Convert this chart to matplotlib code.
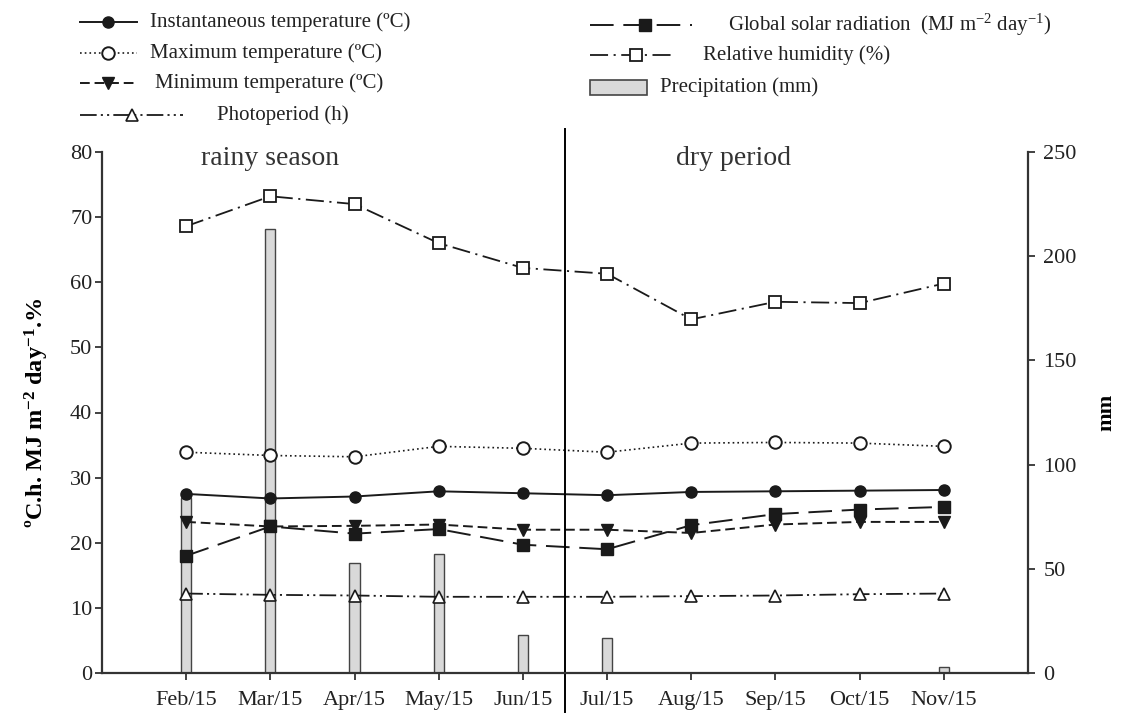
import matplotlib
matplotlib.use("Agg")
import matplotlib.pyplot as plt
from matplotlib.lines import Line2D
from matplotlib.patches import Rectangle
import numpy as np

plt.rcParams['font.family'] = ['Liberation Serif', 'DejaVu Serif']
plt.rcParams['mathtext.fontset'] = 'custom'
plt.rcParams['mathtext.rm'] = 'Liberation Serif'
plt.rcParams['mathtext.it'] = 'Liberation Serif:italic'
plt.rcParams['mathtext.bf'] = 'Liberation Serif:bold'
plt.rcParams['mathtext.default'] = 'regular'
plt.rcParams['lines.scale_dashes'] = False

months = ["Feb/15", "Mar/15", "Apr/15", "May/15", "Jun/15",
          "Jul/15", "Aug/15", "Sep/15", "Oct/15", "Nov/15"]
inst_temp = [27.5, 26.8, 27.1, 27.9, 27.6, 27.3, 27.8, 27.9, 28.0, 28.1]
max_temp = [33.9, 33.4, 33.2, 34.8, 34.5, 33.9, 35.3, 35.4, 35.3, 34.8]
min_temp = [23.2, 22.5, 22.6, 22.8, 22.0, 22.0, 21.5, 22.8, 23.2, 23.2]
photoperiod = [12.2, 12.0, 11.9, 11.7, 11.7, 11.7, 11.8, 11.9, 12.1, 12.2]
solar_rad = [18.0, 22.5, 21.4, 22.1, 19.7, 19.0, 22.7, 24.4, 25.1, 25.5]
rel_humidity = [68.6, 73.2, 72.0, 66.0, 62.2, 61.3, 54.3, 57.0, 56.8, 59.8]
precipitation = [84, 213, 53, 57, 18, 17, 0, 0, 0, 3]

x = np.arange(len(months))

W, H = 1122, 717
fig = plt.figure(figsize=(W / 100, H / 100), dpi=100)
ax = fig.add_axes([102 / W, 1 - 673 / H, (1028 - 102) / W, (673 - 152) / H])
ax2 = ax.twinx()
ax.set_zorder(ax2.get_zorder() + 1)
ax.patch.set_visible(False)

ink = '#1a1a1a'
# styles
st_inst = dict(color=ink, lw=1.4, linestyle='-', marker='o', ms=8, mfc=ink, mec=ink)
st_max = dict(color=ink, lw=1.2, linestyle=(0, (1.2, 2.2)), marker='o', ms=9, mfc='white', mec=ink, mew=1.4)
st_min = dict(color=ink, lw=1.4, linestyle=(0, (7, 3.5)), marker='v', ms=8, mfc=ink, mec=ink)
st_phot = dict(color=ink, lw=1.3, linestyle=(0, (12, 3, 1.5, 3, 1.5, 3)), marker='^', ms=9, mfc='white', mec=ink, mew=1.2)
st_solar = dict(color=ink, lw=1.4, linestyle=(0, (17, 7)), marker='s', ms=8, mfc=ink, mec=ink)
st_rh = dict(color=ink, lw=1.3, linestyle=(0, (13, 4, 1.5, 4)), marker='s', ms=8, mfc='white', mec=ink, mew=1.3)

# precipitation bars on right axis
ax2.bar(x, precipitation, width=0.12, color='#d9d9d9', edgecolor='#444444', linewidth=1.0, zorder=1)
ax2.set_ylim(0, 250)
ax2.set_yticks([0, 50, 100, 150, 200, 250])

ax.plot(x, rel_humidity, **st_rh)
ax.plot(x, max_temp, **st_max)
ax.plot(x, inst_temp, **st_inst)
ax.plot(x, min_temp, **st_min)
ax.plot(x, solar_rad, **st_solar)
ax.plot(x, photoperiod, **st_phot)

ax.set_xlim(-1, 10)
ax.set_ylim(0, 80)
ax.set_yticks(np.arange(0, 81, 10))
ax.set_xticks(x)
ax.set_xticklabels(months)

for a in (ax, ax2):
    a.spines['top'].set_visible(False)
    for s in a.spines.values():
        s.set_linewidth(1.6)
        s.set_color('#333333')
ax.spines['right'].set_visible(False)
ax2.spines['left'].set_visible(False)
ax2.spines['bottom'].set_visible(False)

ax.tick_params(axis='both', direction='out', length=5, width=1.3, labelsize=16, colors='#333333', labelcolor='#222222')
ax.tick_params(axis='y', pad=2)
ax.tick_params(axis='x', pad=8)
ax2.tick_params(axis='y', direction='out', length=5, width=1.3, labelsize=16, colors='#333333',
                labelcolor='#222222', pad=6)

ax.set_ylabel(r'ºC.h. MJ m$^{\mathbf{-2}}$ day$^{\mathbf{-1}}$.%', fontsize=17.5, fontweight='bold', labelpad=14)
ax2.set_ylabel('mm', fontsize=16, fontweight='bold', labelpad=14)

# season separator
ax.axvline(4.5, ymin=-0.075, ymax=1.044, color='black', lw=1.4, clip_on=False)
ax.text(1.0, 79, 'rainy season', fontsize=20, ha='center', va='center', color='#333333')
ax.text(6.5, 79, 'dry period', fontsize=20, ha='center', va='center', color='#333333')

# legend (manual, SigmaPlot style)
def fx(px):
    return px / W

def fy(py):
    return 1 - py / H

def key(x0, x1, xm, y, st, label, tx):
    s = dict(st)
    marker = s.pop('marker'); ms = s.pop('ms'); mfc = s.pop('mfc'); mec = s.pop('mec'); mew = s.pop('mew', 1.0)
    fig.add_artist(Line2D([fx(x0), fx(x1)], [fy(y), fy(y)], transform=fig.transFigure, **s))
    fig.add_artist(Line2D([fx(xm)], [fy(y)], transform=fig.transFigure, marker=marker, ms=ms,
                          mfc=mfc, mec=mec, mew=mew, linestyle='none'))
    fig.text(fx(tx), fy(y), label, fontsize=15, va='center', ha='left', color='#222222')

key(80, 137, 108, 22, st_inst, 'Instantaneous temperature (ºC)', 150)
key(80, 137, 108, 53, st_max, 'Maximum temperature (ºC)', 150)
key(80, 137, 108, 83, st_min, 'Minimum temperature (ºC)', 155)
key(80, 183, 132, 115, st_phot, 'Photoperiod (h)', 217)
key(590, 692, 645, 25, st_solar, r'Global solar radiation  (MJ m$^{-2}$ day$^{-1}$)', 728)
key(590, 675, 636, 55, st_rh, 'Relative humidity (%)', 703)
fig.add_artist(Rectangle((fx(590), fy(95)), fx(647) - fx(590), fy(80) - fy(95), transform=fig.transFigure,
                         facecolor='#d9d9d9', edgecolor='#444444', lw=1.2))
fig.text(fx(660), fy(87), 'Precipitation (mm)', fontsize=15, va='center', ha='left', color='#222222')

fig.savefig('out.png', dpi=100)
